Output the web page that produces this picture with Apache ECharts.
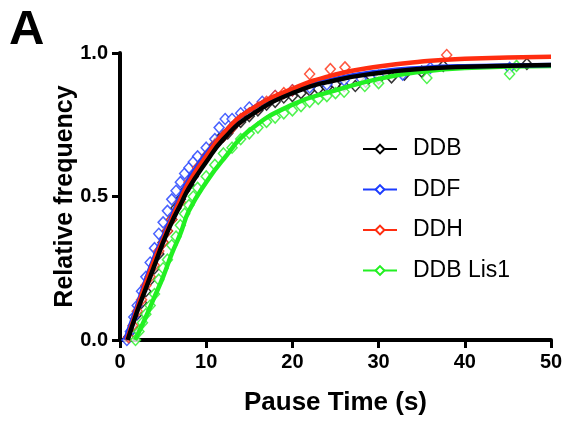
<!DOCTYPE html>
<html>
<head>
<meta charset="utf-8">
<script src="https://cdn.jsdelivr.net/npm/echarts@6/dist/echarts.min.js"></script>
<style>
  html, body { margin: 0; padding: 0; background: #ffffff; }
  #chart { width: 566px; height: 424px; }
</style>
</head>
<body>
<div id="chart"></div>
<script>
// fitted curves
const ddbFit = [[0.9, 0], [2, 0.1], [3, 0.18], [4, 0.26], [5, 0.34], [6, 0.41], [7, 0.47], [8, 0.53], [10, 0.62], [12, 0.7], [15, 0.78], [20, 0.86], [25, 0.905], [30, 0.93], [35, 0.945], [40, 0.952], [50, 0.958]];
const ddfFit = [[0.6, 0], [2, 0.12], [3, 0.21], [4, 0.29], [5, 0.36], [6, 0.43], [7, 0.5], [8, 0.56], [10, 0.65], [12, 0.72], [15, 0.8], [20, 0.87], [25, 0.91], [30, 0.935], [35, 0.948], [40, 0.954], [50, 0.958]];
const ddhFit = [[0.8, 0], [2, 0.11], [3, 0.2], [4, 0.28], [5, 0.35], [6, 0.42], [7, 0.49], [8, 0.55], [10, 0.64], [12, 0.72], [15, 0.8], [20, 0.875], [25, 0.925], [30, 0.953], [35, 0.97], [40, 0.98], [50, 0.987]];
const lis1Fit = [[1.75, 0], [3, 0.08], [4, 0.15], [5, 0.22], [6, 0.3], [7, 0.37], [8, 0.45], [10, 0.55], [12, 0.63], [15, 0.73], [20, 0.82], [25, 0.87], [30, 0.91], [35, 0.935], [40, 0.948], [50, 0.955]];

// measured points
const ddbPts = [[1.0, 0.01], [1.5, 0.04], [2.0, 0.09], [2.5, 0.13], [3.0, 0.17], [3.5, 0.21], [4.0, 0.25], [4.5, 0.3], [5.0, 0.34], [5.5, 0.38], [6.0, 0.42], [6.5, 0.46], [7.0, 0.49], [7.5, 0.52], [8.0, 0.54], [8.5, 0.57], [9.0, 0.6], [9.5, 0.62], [10.0, 0.64], [10.5, 0.66], [11.0, 0.68], [11.5, 0.7], [12.0, 0.71], [12.5, 0.72], [13.0, 0.74], [14.0, 0.76], [15.0, 0.78], [16.0, 0.8], [17.0, 0.82], [18.0, 0.83], [19.0, 0.845], [20.0, 0.85], [21.0, 0.86], [22.0, 0.87], [23.0, 0.875], [24.0, 0.88], [25.0, 0.89], [26.0, 0.885], [27.3, 0.885], [28.5, 0.9], [30.0, 0.91], [31.5, 0.915], [33.0, 0.925], [35.0, 0.935], [37.5, 0.955], [47.2, 0.962]];
const ddfPts = [[0.8, 0.0], [1.2, 0.03], [1.6, 0.08], [2.0, 0.12], [2.5, 0.17], [3.0, 0.22], [3.5, 0.27], [4.0, 0.32], [4.5, 0.37], [5.0, 0.41], [5.5, 0.45], [6.0, 0.49], [6.5, 0.52], [7.0, 0.55], [7.5, 0.58], [8.0, 0.6], [8.5, 0.62], [9.0, 0.64], [10.0, 0.67], [11.0, 0.7], [11.5, 0.74], [12.2, 0.77], [13.0, 0.77], [14.0, 0.79], [15.0, 0.81], [16.5, 0.83], [18.0, 0.85], [20.0, 0.87], [22.0, 0.88], [24.0, 0.89], [26.0, 0.905], [28.0, 0.91], [30.0, 0.92], [32.8, 0.925], [36.0, 0.948], [45.2, 0.948]];
const ddhPts = [[1.0, 0.01], [1.5, 0.05], [2.0, 0.1], [2.5, 0.14], [3.0, 0.19], [3.5, 0.22], [4.0, 0.26], [4.5, 0.31], [5.0, 0.34], [5.5, 0.38], [6.0, 0.42], [7.0, 0.48], [8.0, 0.55], [9.0, 0.6], [10.0, 0.64], [11.0, 0.68], [12.0, 0.71], [13.0, 0.74], [14.0, 0.77], [15.0, 0.79], [16.0, 0.81], [17.0, 0.83], [18.0, 0.85], [19.0, 0.86], [20.0, 0.87], [22.0, 0.927], [24.4, 0.944], [26.1, 0.95], [37.9, 0.993]];
const lis1Pts = [[1.8, 0.0], [2.2, 0.03], [2.6, 0.06], [3.0, 0.09], [3.5, 0.12], [4.0, 0.16], [4.5, 0.21], [5.0, 0.25], [5.5, 0.28], [6.0, 0.33], [6.5, 0.36], [7.0, 0.4], [7.5, 0.44], [8.0, 0.47], [8.5, 0.5], [9.0, 0.53], [10.0, 0.57], [11.0, 0.61], [12.0, 0.65], [13.0, 0.67], [14.0, 0.7], [15.0, 0.72], [16.0, 0.74], [17.0, 0.76], [18.0, 0.775], [19.0, 0.79], [20.0, 0.8], [21.0, 0.815], [22.0, 0.83], [23.0, 0.84], [24.0, 0.85], [25.0, 0.86], [26.0, 0.865], [28.4, 0.885], [30.0, 0.895], [35.6, 0.913], [45.2, 0.927], [46.0, 0.955]];

const names = ['DDB', 'DDF', 'DDH', 'DDB Lis1'];
const colors = ['#000000', '#1c3cff', '#ff2d10', '#22f022'];
const fits = [ddbFit, ddfFit, ddhFit, lis1Fit];
const points = [ddbPts, ddfPts, ddhPts, lis1Pts];

const FONT = 'Liberation Sans, Arial, sans-serif';

const scatterSeries = points.map((pts, i) => ({
  name: names[i] + ' data',
  type: 'scatter',
  data: pts,
  symbol: 'diamond',
  symbolSize: [10, 11],
  itemStyle: { color: '#ffffff', borderColor: colors[i], borderWidth: 1.5 },
  z: 2
}));

// curve draw order: green, blue, red, black on top
const lineOrder = [3, 1, 2, 0];
const lineSeries = lineOrder.map((i) => ({
  name: names[i],
  type: 'line',
  data: fits[i],
  smooth: true,
  symbol: 'emptyDiamond',
  symbolSize: 9,
  showSymbol: false,
  lineStyle: { color: colors[i], width: 4.5 },
  itemStyle: { color: colors[i], borderColor: colors[i], borderWidth: 1.5 },
  z: 3 + lineOrder.indexOf(i)
}));

const chart = echarts.init(document.getElementById('chart'), null, { renderer: 'canvas' });
chart.setOption({
  animation: false,
  backgroundColor: '#ffffff',
  title: {
    text: 'A',
    left: 4,
    top: 1,
    textStyle: { fontFamily: FONT, fontSize: 49, fontWeight: 'bold', color: '#000' }
  },
  legend: {
    data: names,
    orient: 'vertical',
    left: 362,
    top: 137,
    padding: 0,
    itemWidth: 34,
    itemHeight: 11,
    itemGap: 16.5,
    textStyle: { fontFamily: FONT, fontSize: 23, color: '#000', lineHeight: 24, padding: [0, 0, 0, 11] }
  },
  grid: { left: 120, right: 15, top: 53, bottom: 84 },
  xAxis: {
    type: 'value',
    min: 0,
    max: 50,
    interval: 10,
    name: 'Pause Time (s)',
    nameLocation: 'middle',
    nameGap: 50,
    nameMoveOverlap: false,
    nameTextStyle: { fontFamily: FONT, fontSize: 26, fontWeight: 'bold', color: '#000' },
    axisLine: { lineStyle: { color: '#000', width: 4 } },
    axisTick: { length: 8, lineStyle: { color: '#000', width: 3 } },
    axisLabel: { margin: 12, fontFamily: FONT, fontSize: 20, fontWeight: 'bold', color: '#000' },
    splitLine: { show: false }
  },
  yAxis: {
    type: 'value',
    min: 0,
    max: 1,
    interval: 0.5,
    name: 'Relative frequency',
    nameLocation: 'middle',
    nameGap: 42,
    nameMoveOverlap: false,
    nameTextStyle: { fontFamily: FONT, fontSize: 25, fontWeight: 'bold', color: '#000' },
    axisLine: { show: true, lineStyle: { color: '#000', width: 4 } },
    axisTick: { show: true, length: 8, lineStyle: { color: '#000', width: 3 } },
    axisLabel: {
      margin: 12,
      fontFamily: FONT,
      fontSize: 20,
      fontWeight: 'bold',
      color: '#000',
      formatter: (v) => v.toFixed(1)
    },
    splitLine: { show: false }
  },
  series: scatterSeries.concat(lineSeries)
});
</script>
</body>
</html>
